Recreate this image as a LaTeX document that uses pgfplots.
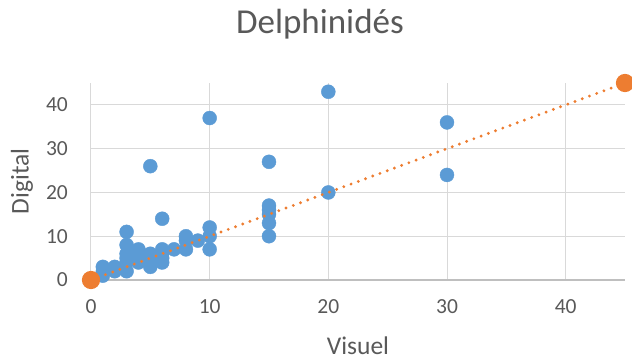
\documentclass[border=0pt]{standalone}
\usepackage{fontspec}
\setmainfont{Carlito}
\usepackage{pgfplots}
\pgfplotsset{compat=1.18}
\definecolor{xlblue}{HTML}{5B9BD5}
\definecolor{xlorange}{HTML}{ED7D31}
\definecolor{txtgray}{HTML}{595959}
\definecolor{gridgray}{HTML}{D9D9D9}
\definecolor{axisgray}{HTML}{BFBFBF}
\begin{document}
\begin{tikzpicture}[x=1pt,y=1pt]
\path[use as bounding box] (-91,-80) rectangle (541,280);
\begin{axis}[
    at={(0,0)}, anchor=south west,
    scale only axis, width=534pt, height=197pt,
    xmin=0, xmax=45, ymin=0, ymax=45,
    xtick={0,10,20,30,40}, ytick={0,10,20,30,40},
    grid=major, major grid style={gridgray, line width=1pt},
    axis line style={draw=none},
    tick style={draw=none},
    clip=false, clip marker paths=true,
    /pgf/number format/assume math mode=true,
    ticklabel style={font=\fontsize{21.5}{24}\selectfont, text=txtgray, inner sep=0pt},
    xticklabel style={anchor=base, yshift=-33pt},
    yticklabel style={anchor=east, xshift=-23pt},
    title={Delphinidés},
    title style={font=\fontsize{35}{40}\selectfont, text=txtgray,
        at={(axis description cs:0.4288,1.22)}, anchor=base, inner sep=0pt},
    xlabel={Visuel}, ylabel={Digital},
    label style={font=\fontsize{25.5}{30}\selectfont, text=txtgray, inner sep=0pt},
    xlabel style={at={(axis description cs:0.5,-0.38)}, anchor=base},
    ylabel style={at={(axis description cs:-0.1292,0.5)}, anchor=center},
]
\draw[axisgray, line width=1.2pt] (axis cs:0,0) -- (axis cs:45,0);
\addplot[only marks, mark=*, mark size=7pt, color=xlblue, mark options={draw=xlblue, fill=xlblue}] coordinates {
    (1,1) (1,2) (1,3) (2,2) (2,3) (3,2) (3,4) (3,5) (3,6) (3,8) (3,11)
    (4,4) (4,5) (4,6) (4,7) (5,3) (5,4) (5,5) (5,6) (5,26)
    (6,4) (6,5) (6,6) (6,7) (6,14) (7,7) (8,7) (8,9) (8,10) (9,9)
    (10,7) (10,10) (10,12) (10,37)
    (15,10) (15,13) (15,15) (15,16) (15,17) (15,27)
    (20,20) (20,43) (30,24) (30,36)
};
\addplot[color=xlorange, line width=3.2pt, line cap=round, dash pattern=on 0pt off 7.7pt,
    mark=*, mark size=7.5pt, mark options={solid, fill=xlorange, draw=xlorange}] coordinates {
    (0,0) (45,45)
};
\end{axis}
\end{tikzpicture}
\end{document}
